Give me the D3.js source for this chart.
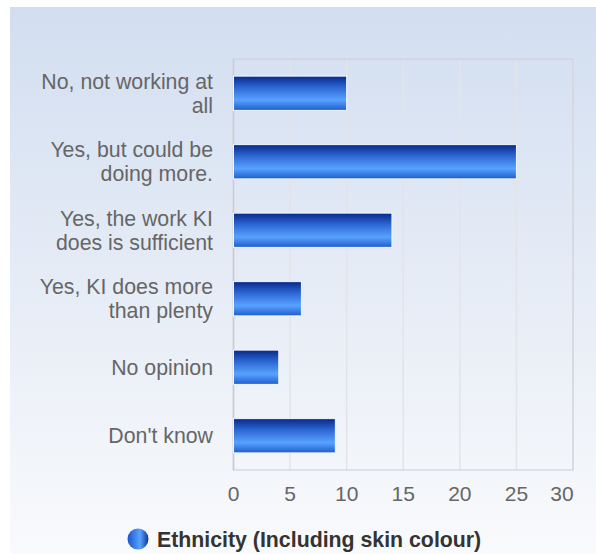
<!DOCTYPE html>
<html><head><meta charset="utf-8">
<script src="https://cdn.jsdelivr.net/npm/d3@7"></script>
<style>body{margin:0;background:#fff;}svg{display:block;font-family:Arial,"Liberation Sans",sans-serif;}</style>
</head><body>
<svg id="c" width="596" height="554"></svg>
<script>
const categories = [["No, not working at","all"],["Yes, but could be","doing more."],["Yes, the work KI","does is sufficient"],["Yes, KI does more","than plenty"],["No opinion"],["Don't know"]];
const values = [10, 25, 14, 6, 4, 9];
const ticks = [0, 5, 10, 15, 20, 25, 30];
const seriesName = "Ethnicity (Including skin colour)";

const svg = d3.select("#c");
const defs = svg.append("defs");
const bg = defs.append("linearGradient").attr("id","bg").attr("x1",0).attr("y1",0).attr("x2",0).attr("y2",1);
bg.append("stop").attr("offset","0%").attr("stop-color","#d2def0");
bg.append("stop").attr("offset","100%").attr("stop-color","#f9fafc");
const bar = defs.append("linearGradient").attr("id","bar").attr("x1",0).attr("y1",0).attr("x2",0).attr("y2",1);
[["0%","#07288a"],["35%","#2f6ad6"],["70%","#58a2ff"],["100%","#1f5ccc"]].forEach(s=>bar.append("stop").attr("offset",s[0]).attr("stop-color",s[1]));
const leg = defs.append("linearGradient").attr("id","leg").attr("x1",0).attr("y1",0).attr("x2",1).attr("y2",0);
[["0%","#1a55c8"],["60%","#5aa2ff"],["100%","#0c3597"]].forEach(s=>leg.append("stop").attr("offset",s[0]).attr("stop-color",s[1]));

svg.append("rect").attr("x",10).attr("y",7).attr("width",586).attr("height",547).attr("fill","url(#bg)");

const L=233.5, R=573, T=59, B=470;
const x = d3.scaleLinear().domain([0,30]).range([L,R]);
const y = d3.scaleBand().domain(d3.range(categories.length)).range([T,B]).paddingInner(0.5).paddingOuter(0.25);

// gridlines
svg.append("g").selectAll("line").data(ticks).join("line")
  .attr("x1",d=>x(d)).attr("x2",d=>x(d)).attr("y1",T).attr("y2",B)
  .attr("stroke","#e2e4e8").attr("stroke-width",1.5);
svg.append("rect").attr("x",L).attr("y",T).attr("width",R-L).attr("height",B-T)
  .attr("fill","none").attr("stroke","#cfd3da").attr("stroke-width",1.2);
svg.append("line").attr("x1",L).attr("x2",L).attr("y1",T).attr("y2",B).attr("stroke","#c8ccd4").attr("stroke-width",1.5);

// bars
svg.append("g").selectAll("rect").data(values).join("rect")
  .attr("x",x(0)).attr("y",(d,i)=>y(i)).attr("width",d=>x(d)-x(0)).attr("height",y.bandwidth())
  .attr("fill","url(#bar)").attr("stroke","#f4f7ff").attr("stroke-width",1);

// category labels
const cl = svg.append("g").selectAll("text").data(categories).join("text")
  .attr("text-anchor","end").attr("fill","#666").attr("font-size",21.3)
  .attr("transform",(d,i)=>`translate(213,${y(i)+y.bandwidth()/2})`);
cl.each(function(d){
  const t=d3.select(this); const n=d.length;
  d.forEach((s,k)=>t.append("tspan").attr("x",0).attr("y",(k-(n-1)/2)*24+7.5).text(s));
});

// x tick labels
svg.append("g").selectAll("text").data(ticks).join("text")
  .attr("x",d=>d===30?x(d)-11:x(d)).attr("y",501).attr("text-anchor","middle")
  .attr("fill","#666").attr("font-size",21).text(d=>d);

// legend
svg.append("circle").attr("cx",138).attr("cy",539).attr("r",10.5).attr("fill","url(#leg)");
svg.append("text").attr("x",157).attr("y",547).attr("font-size",21.3).attr("font-weight","bold").attr("fill","#333").text(seriesName);
</script>
</body></html>
